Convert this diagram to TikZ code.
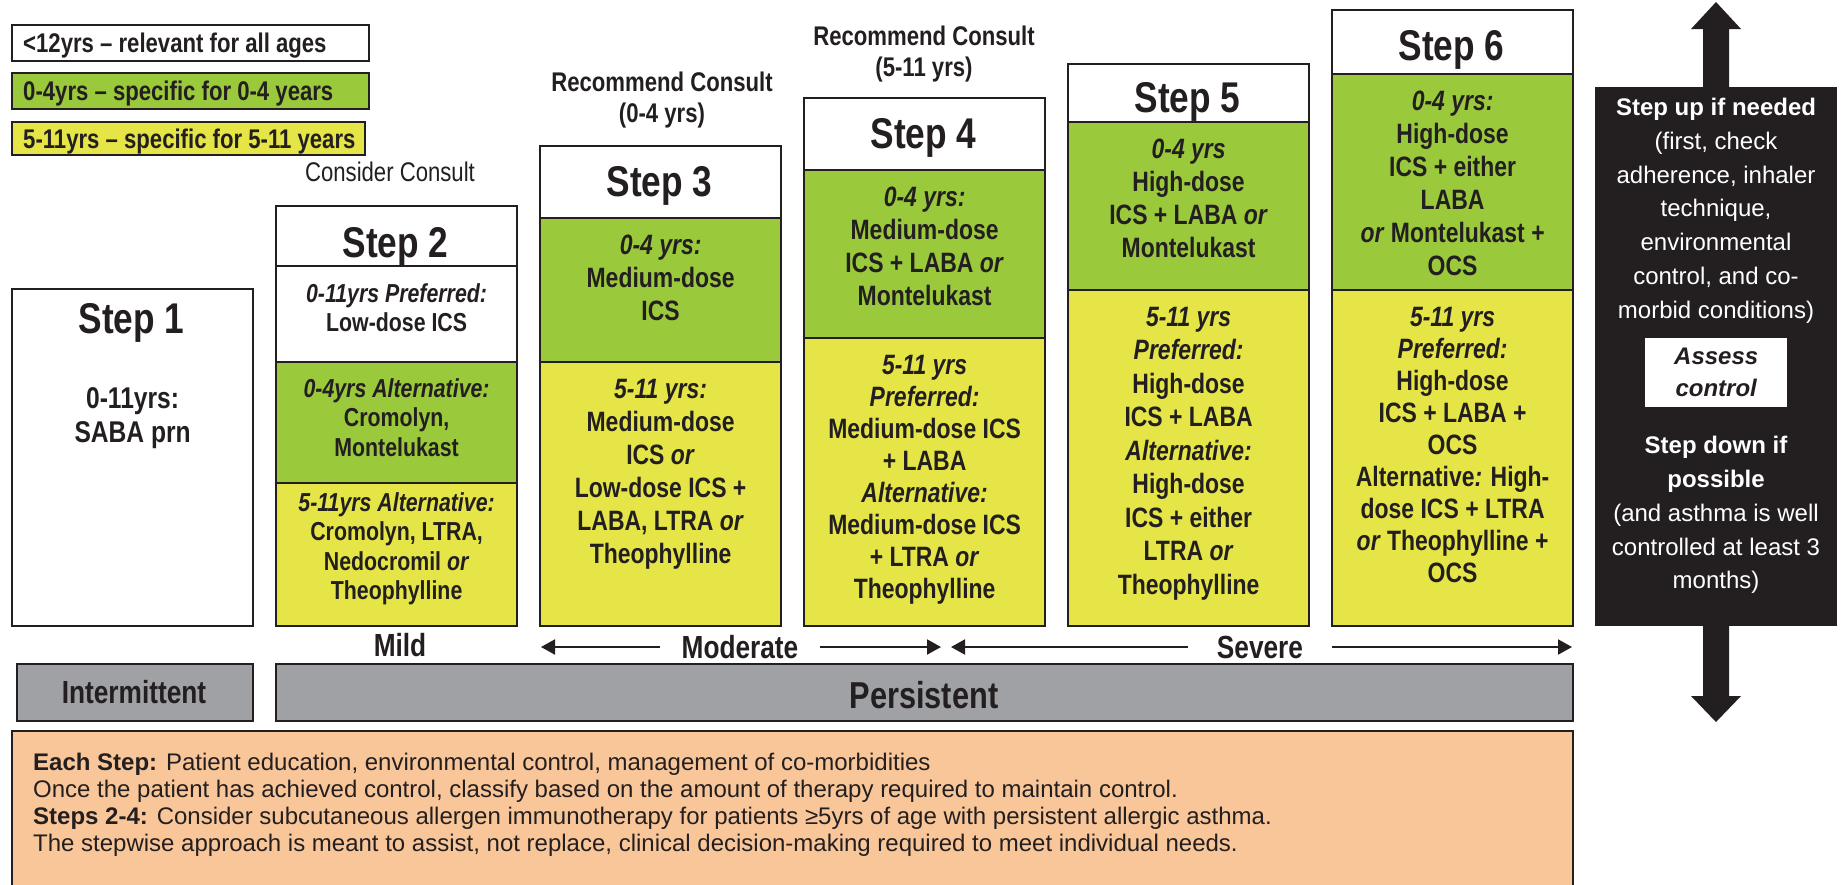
\documentclass[tikz,border=0pt]{standalone}
\usepackage{fontspec}
\usetikzlibrary{positioning,arrows.meta}
\newfontfamily\cond[FakeStretch=0.82]{Liberation Sans}
\newfontfamily\plain{Liberation Sans}
\definecolor{ink}{HTML}{231F20}
\definecolor{grn}{HTML}{9BC93C}
\definecolor{ylw}{HTML}{E5E548}
\definecolor{gry}{HTML}{A0A1A5}
\definecolor{peach}{HTML}{F8C699}

\begin{document}
\begin{tikzpicture}[x=1pt, y=-1pt,
    cell/.style={draw=ink, line width=2.2pt, anchor=north west, inner sep=0pt, minimum width=241pt},
    stephead/.style={font=\cond\bfseries\fontsize{43}{48}\selectfont, text=ink, text depth=0pt, inner sep=0pt},
    stepbody/.style={font=\cond\bfseries\fontsize{28}{33}\selectfont, text=ink, align=center, inner sep=0pt},
    stepbodysm/.style={font=\cond\bfseries\fontsize{26}{29.5}\selectfont, text=ink, align=center, inner sep=0pt},
    legtxt/.style={font=\cond\bfseries\fontsize{27}{31}\selectfont, text=ink, text depth=0pt, inner sep=0pt},
    consult/.style={font=\cond\bfseries\fontsize{27}{31}\selectfont, text=ink, align=center, inner sep=0pt, anchor=north},
    sev/.style={font=\cond\bfseries\fontsize{32}{36}\selectfont, text=ink, text depth=0pt, inner ysep=0pt},
    sevarrow/.style={draw=ink, line width=2pt, -{Triangle[length=14pt,width=15pt]}},
    paneltxt/.style={font=\plain\fontsize{24}{33.8}\selectfont, text=white, align=center, inner sep=0pt, anchor=north}
]

\useasboundingbox (0,0) rectangle (1847,884);
\fill[white] (0,0) rectangle (1847,884);
\clip (0,0) rectangle (1847,884);

    % Legend
    \node[cell, fill=white, minimum width=357pt, minimum height=36pt] (lg1) at (11,24) {};
    \node[cell, fill=grn, minimum width=357pt, minimum height=36pt] (lg2) at (11,72) {};
    \node[cell, fill=ylw, minimum width=353pt, minimum height=33pt] (lg3) at (11,121) {};
    \node[legtxt, anchor=west, right=12pt of lg1.west] {<12yrs – relevant for all ages};
    \node[legtxt, anchor=west, right=12pt of lg2.west] {0-4yrs – specific for 0-4 years};
    \node[legtxt, anchor=west, right=12pt of lg3.west] {5-11yrs – specific for 5-11 years};

    % Consult notes
    \node[font=\cond\fontsize{27}{31}\selectfont, text=ink, text depth=0pt, inner sep=0pt] (cons2) at (390,172) {Consider Consult};
    \node[consult] (cons3) at (662,72) {Recommend Consult\\(0-4 yrs)};
    \node[consult] (cons4) at (924,26) {Recommend Consult\\(5-11 yrs)};

    % Step 1
    \node[cell, fill=white, minimum height=337pt] (s1) at (11,288) {};
    \node[stephead] (h1) at (131.5,318) {Step 1};
    \node[stepbody, font=\cond\bfseries\fontsize{30}{34}\selectfont, below=99pt of s1.north] (t1) {0-11yrs:\\SABA prn};

    % Step 2
    \node[cell, fill=white, minimum height=60pt] (s2h) at (275,205) {};
    \node[cell, fill=white, minimum height=96pt] (s2w) at (275,265) {};
    \node[cell, fill=grn, minimum height=121pt] (s2g) at (275,361) {};
    \node[cell, fill=ylw, minimum height=143pt] (s2y) at (275,482) {};
    \node[stephead] (h2) at (395.5,242) {Step 2};
    \node[stepbodysm, below=18pt of s2w.north] (t2w) {\textit{0-11yrs Preferred:}\\Low-dose ICS};
    \node[stepbodysm, below=17pt of s2g.north] (t2g) {\textit{0-4yrs Alternative:}\\Cromolyn,\\Montelukast};
    \node[stepbodysm, below=10pt of s2y.north] (t2y) {\textit{5-11yrs Alternative:}\\Cromolyn, LTRA,\\Nedocromil \textit{or}\\Theophylline};

    % Step 3
    \node[cell, fill=white, minimum height=72pt] (s3h) at (539,145) {};
    \node[cell, fill=grn, minimum height=144pt] (s3g) at (539,217) {};
    \node[cell, fill=ylw, minimum height=264pt] (s3y) at (539,361) {};
    \node[stephead] (h3) at (659.5,181) {Step 3};
    \node[stepbody, below=18pt of s3g.north] (t3g) {\textit{0-4 yrs:}\\Medium-dose\\ICS};
    \node[stepbody, below=18pt of s3y.north] (t3y) {\textit{5-11 yrs:}\\Medium-dose\\ICS \textit{or}\\Low-dose ICS +\\LABA, LTRA \textit{or}\\Theophylline};

    % Step 4
    \node[cell, fill=white, minimum height=72pt] (s4h) at (803,97) {};
    \node[cell, fill=grn, minimum height=168pt] (s4g) at (803,169) {};
    \node[cell, fill=ylw, minimum height=288pt] (s4y) at (803,337) {};
    \node[stephead] (h4) at (923.5,133) {Step 4};
    \node[stepbody, below=18pt of s4g.north] (t4g) {\textit{0-4 yrs:}\\Medium-dose\\ICS + LABA \textit{or}\\Montelukast};
    \node[stepbody, font=\cond\bfseries\fontsize{28}{32}\selectfont, below=18pt of s4y.north] (t4y) {\textit{5-11 yrs}\\\textit{Preferred:}\\Medium-dose ICS\\+ LABA\\\textit{Alternative:}\\Medium-dose ICS\\+ LTRA \textit{or}\\Theophylline};

    % Step 5
    \node[cell, fill=white, minimum height=58pt] (s5h) at (1067,63) {};
    \node[cell, fill=grn, minimum height=168pt] (s5g) at (1067,121) {};
    \node[cell, fill=ylw, minimum height=336pt] (s5y) at (1067,289) {};
    \node[stephead] (h5) at (1187.5,97) {Step 5};
    \node[stepbody, below=18pt of s5g.north] (t5g) {\textit{0-4 yrs}\\High-dose\\ICS + LABA \textit{or}\\Montelukast};
    \node[stepbody, font=\cond\bfseries\fontsize{28}{33.5}\selectfont, below=18pt of s5y.north] (t5y) {\textit{5-11 yrs}\\\textit{Preferred:}\\High-dose\\ICS + LABA\\\textit{Alternative:}\\High-dose\\ICS + either\\LTRA \textit{or}\\Theophylline};

    % Step 6
    \node[cell, fill=white, minimum height=64pt] (s6h) at (1331,9) {};
    \node[cell, fill=grn, minimum height=216pt] (s6g) at (1331,73) {};
    \node[cell, fill=ylw, minimum height=336pt] (s6y) at (1331,289) {};
    \node[stephead] (h6) at (1451.5,45) {Step 6};
    \node[stepbody, below=18pt of s6g.north] (t6g) {\textit{0-4 yrs:}\\High-dose\\ICS + either\\LABA\\\textit{or} Montelukast +\\OCS};
    \node[stepbody, font=\cond\bfseries\fontsize{28}{32}\selectfont, below=18pt of s6y.north] (t6y) {\textit{5-11 yrs}\\\textit{Preferred:}\\High-dose\\ICS + LABA +\\OCS\\Alternative\textit{:} High-\\dose ICS + LTRA\\\textit{or} Theophylline +\\OCS};

    % Severity labels with arrows
    \node[sev, inner xsep=0pt] (mild) at (400,645) {Mild};
    \node[sev, inner xsep=21pt] (mod) at (740,647) {Moderate};
    \node[sev, inner xsep=29pt] (sevr) at (1260,647) {Severe};
    \coordinate (modL) at (541,647);
    \coordinate (modR) at (941,647);
    \coordinate (sevL) at (951,647);
    \coordinate (sevR) at (1572,647);
    \draw[sevarrow] (mod.west) -- (modL);
    \draw[sevarrow] (mod.east) -- (modR);
    \draw[sevarrow] (sevr.west) -- (sevL);
    \draw[sevarrow] (sevr.east) -- (sevR);

    % Classification bands
    \node[cell, fill=gry, minimum width=236pt, minimum height=57pt] (int) at (16,663) {};
    \node[cell, fill=gry, minimum width=1297pt, minimum height=57pt] (pers) at (275,663) {};
    \node[sev, text depth=0pt, inner sep=0pt] at (134,692) {Intermittent};
    \node[sev, font=\cond\bfseries\fontsize{37.5}{40}\selectfont, inner sep=0pt] at (924,695) {Persistent};

    % Notes
    \node[cell, fill=peach, minimum width=1561pt, minimum height=170pt] (notes) at (11,730) {};
    \node[font=\plain\fontsize{24}{27}\selectfont, text=ink, align=left, inner sep=0pt, anchor=north west] (ntxt) at (33,753)
        {\textbf{Each Step:} Patient education, environmental control, management of co-morbidities\\
         Once the patient has achieved control, classify based on the amount of therapy required to maintain control.\\
         \textbf{Steps 2-4:} Consider subcutaneous allergen immunotherapy for patients ≥5yrs of age with persistent allergic asthma.\\
         The stepwise approach is meant to assist, not replace, clinical decision-making required to meet individual needs.};

    % Step up / step down panel
    \fill[ink] (1703,90) -- (1703,29) -- (1691,29) -- (1716,2) -- (1741,29) -- (1729,29) -- (1729,90) -- cycle;
    \fill[ink] (1703,620) -- (1703,696) -- (1691,696) -- (1716,722) -- (1741,696) -- (1729,696) -- (1729,620) -- cycle;
    \node[fill=ink, anchor=north west, minimum width=242pt, minimum height=539pt, inner sep=0pt] (panel) at (1595,87) {};
    \node[paneltxt] (up) at (1716,98) {\textbf{Step up if needed}\\(first, check\\adherence, inhaler\\technique,\\environmental\\control, and co-\\morbid conditions)};
    \node[fill=white, anchor=north west, minimum width=142pt, minimum height=69pt, inner sep=0pt] (assess) at (1645,338) {};
    \node[font=\plain\bfseries\itshape\fontsize{24}{32}\selectfont, text=ink, align=center, inner sep=0pt] at (assess) {Assess\\control};
    \node[paneltxt] (down) at (1716,436) {\textbf{Step down if}\\\textbf{possible}\\(and asthma is well\\controlled at least 3\\months)};

\end{tikzpicture}
\end{document}
